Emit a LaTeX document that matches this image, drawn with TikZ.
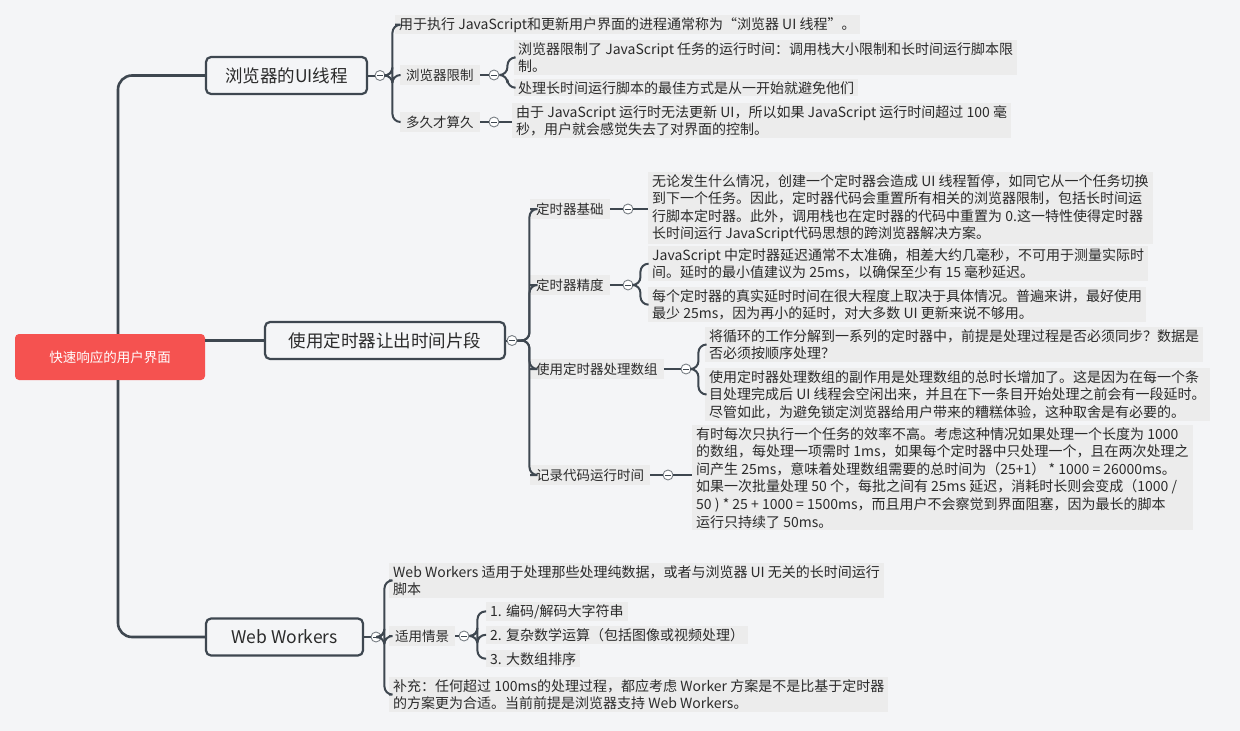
\documentclass[tikz,border=0pt]{standalone}
\usepackage{fontspec}
\setmainfont{Noto Sans CJK SC}
\definecolor{bgc}{HTML}{F4F5F7}
\definecolor{leafbg}{HTML}{ECECEC}
\definecolor{lnc}{HTML}{3E4750}
\definecolor{rootc}{HTML}{F55250}
\definecolor{txt}{HTML}{2B2B2B}
\tikzset{
 leaf/.style={fill=leafbg, anchor=north west, inner xsep=4, inner ysep=2, align=left, text=txt, font=\fontsize{14}{17.6}\selectfont},
 topic/.style={fill=leafbg, anchor=west, inner xsep=6, inner ysep=4, text=txt, font=\fontsize{13.5}{15}\selectfont},
 branch/.style={draw=lnc, line width=2.2, rounded corners=5, fill=bgc, text=txt, font=\fontsize{17.5}{20}\selectfont, minimum height=37, inner xsep=0},
 knob/.style={circle, draw=lnc!70, fill=white, minimum size=10, inner sep=0, line width=0.9, path picture={\draw[lnc,line width=0.8] ([xshift=-2.8]path picture bounding box.center) -- ([xshift=2.8]path picture bounding box.center);}},
 mainline/.style={draw=lnc, line width=2.6, rounded corners=14},
 subline/.style={draw=lnc, line width=2, rounded corners=8},
}
\newcommand\brk[3]{\draw[subline] (#1.east) -- ++(#2,0) |- (#3.west);}
\begin{document}
\begin{tikzpicture}[x=1pt,y=-1pt]
\fill[bgc] (0,0) rectangle (1240,731);
\useasboundingbox (0,0) rectangle (1240,731);
% root
\node[fill=rootc, rounded corners=4, minimum width=190, minimum height=46, text=white, font=\fontsize{13.5}{15}\selectfont] (root) at (110,357) {快速响应的用户界面};
% branches
\node[branch, minimum width=161] (b1) at (286.5,75.5) {浏览器的UI线程};
\node[branch, minimum width=240] (b2) at (385,340.5) {使用定时器让出时间片段};
\node[branch, minimum width=157] (b3) at (284.5,637) {Web Workers};
\draw[mainline] ([xshift=8]root.north) |- (b1.west);
\draw[mainline] (root.east |- b2.west) -- (b2.west);
\draw[mainline] ([xshift=8]root.south) |- (b3.west);
\node[knob] (k1) at (380,75.5) {};
\node[knob] (k2) at (512,340.5) {};
\node[knob] (k3) at (376,637) {};
\draw[lnc,line width=2] (b1.east) -- (k1);
\draw[lnc,line width=2] (b2.east) -- (k2);
\draw[lnc,line width=2] (b3.east) -- (k3);

% ---- branch 1
\node[leaf] (l11) at (395,15) {用于执行 JavaScript和更新用户界面的进程通常称为“浏览器 UI 线程”。};
\node[topic] (t12) at (400,75) {浏览器限制};
\node[knob] (kt12) at (494,75) {};
\draw[lnc,line width=1.2] (t12.east) -- (kt12);
\node[leaf] (l121) at (514,40) {浏览器限制了 JavaScript 任务的运行时间：调用栈大小限制和长时间运行脚本限\\制。};
\node[leaf] (l122) at (514,79) {处理长时间运行脚本的最佳方式是从一开始就避免他们};
\node[topic] (t13) at (400,122) {多久才算久};
\node[knob] (kt13) at (494,122) {};
\draw[lnc,line width=1.2] (t13.east) -- (kt13);
\node[leaf] (l131) at (512,103) {由于 JavaScript 运行时无法更新 UI，所以如果 JavaScript 运行时间超过 100 毫\\秒，用户就会感觉失去了对界面的控制。};
\brk{k1}{7}{l11}
\brk{k1}{7}{t12}
\brk{k1}{7}{t13}
\brk{kt12}{8}{l121}
\brk{kt12}{8}{l122}
\draw[subline] (kt13.east) -- (l131.west |- kt13);

% ---- branch 2
\node[topic] (t21) at (530,209) {定时器基础};
\node[knob] (kt21) at (628,209) {};
\draw[lnc,line width=1.2] (t21.east) -- (kt21);
\node[leaf] (l211) at (648,172) {无论发生什么情况，创建一个定时器会造成 UI 线程暂停，如同它从一个任务切换\\到下一个任务。因此，定时器代码会重置所有相关的浏览器限制，包括长时间运\\行脚本定时器。此外，调用栈也在定时器的代码中重置为 0.这一特性使得定时器\\长时间运行 JavaScript代码思想的跨浏览器解决方案。};
\draw[subline] (kt21.east) -- (l211.west |- kt21);
\node[topic] (t22) at (530,285) {定时器精度};
\node[knob] (kt22) at (628,285) {};
\draw[lnc,line width=1.2] (t22.east) -- (kt22);
\node[leaf] (l221) at (648,246) {JavaScript 中定时器延迟通常不太准确，相差大约几毫秒，不可用于测量实际时\\间。延时的最小值建议为 25ms，以确保至少有 15 毫秒延迟。};
\node[leaf] (l222) at (648,287) {每个定时器的真实延时时间在很大程度上取决于具体情况。普遍来讲，最好使用\\最少 25ms，因为再小的延时，对大多数 UI 更新来说不够用。};
\brk{kt22}{7}{l221}
\brk{kt22}{7}{l222}
\node[topic] (t23) at (530,369) {使用定时器处理数组};
\node[knob] (kt23) at (686,369) {};
\draw[lnc,line width=1.2] (t23.east) -- (kt23);
\node[leaf] (l231) at (705,327) {将循环的工作分解到一系列的定时器中，前提是处理过程是否必须同步？数据是\\否必须按顺序处理？};
\node[leaf] (l232) at (705,368) {使用定时器处理数组的副作用是处理数组的总时长增加了。这是因为在每一个条\\目处理完成后 UI 线程会空闲出来，并且在下一条目开始处理之前会有一段延时。\\尽管如此，为避免锁定浏览器给用户带来的糟糕体验，这种取舍是有必要的。};
\brk{kt23}{7}{l231}
\brk{kt23}{7}{l232}
\node[topic] (t24) at (530,475) {记录代码运行时间};
\node[knob] (kt24) at (668,475) {};
\draw[lnc,line width=1.2] (t24.east) -- (kt24);
\node[leaf] (l241) at (692,425) {有时每次只执行一个任务的效率不高。考虑这种情况如果处理一个长度为 1000\\的数组，每处理一项需时 1ms，如果每个定时器中只处理一个，且在两次处理之\\间产生 25ms，意味着处理数组需要的总时间为（25+1） * 1000 = 26000ms。\\如果一次批量处理 50 个，每批之间有 25ms 延迟，消耗时长则会变成（1000 /\\50 ) * 25 + 1000 = 1500ms，而且用户不会察觉到界面阻塞，因为最长的脚本\\运行只持续了 50ms。};
\draw[subline] (kt24.east) -- (l241.west |- kt24);
\brk{k2}{12}{t21}
\brk{k2}{12}{t22}
\brk{k2}{12}{t23}
\brk{k2}{12}{t24}

% ---- branch 3
\node[leaf] (l31) at (389,563) {Web Workers 适用于处理那些处理纯数据，或者与浏览器 UI 无关的长时间运行\\脚本};
\node[topic] (t32) at (389,636) {适用情景};
\node[knob] (kt32) at (464,636) {};
\draw[lnc,line width=1.2] (t32.east) -- (kt32);
\node[leaf] (l321) at (486,602) {1. 编码/解码大字符串};
\node[leaf] (l322) at (486,626) {2. 复杂数学运算（包括图像或视频处理）};
\node[leaf] (l323) at (486,650) {3. 大数组排序};
\brk{kt32}{8}{l321}
\brk{kt32}{8}{l322}
\brk{kt32}{8}{l323}
\node[leaf] (l33) at (389,677) {补充：任何超过 100ms的处理过程，都应考虑 Worker 方案是不是比基于定时器\\的方案更为合适。当前前提是浏览器支持 Web Workers。};
\brk{k3}{3}{l31}
\brk{k3}{3}{t32}
\brk{k3}{3}{l33}
\end{tikzpicture}
\end{document}
